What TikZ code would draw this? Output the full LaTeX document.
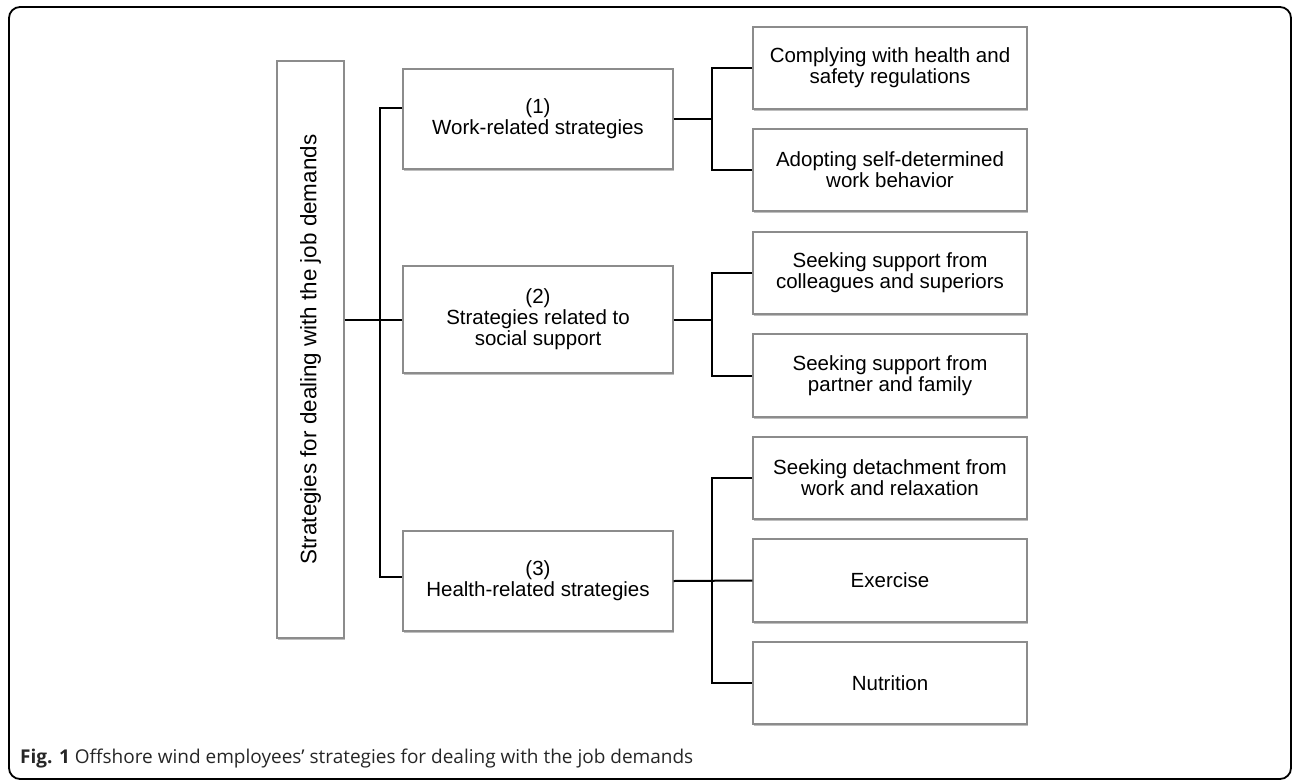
\documentclass[tikz,border=0pt]{standalone}
\usepackage{fontspec}
\setmainfont{Liberation Sans}
\newfontfamily\capfont{Open Sans}
\usetikzlibrary{shadows}
\begin{document}
\begin{tikzpicture}[x=1pt,y=-1pt,
  box/.style={draw=black!45, line width=1.2pt, fill=white, inner sep=0pt,
    drop shadow={shadow xshift=1.2pt, shadow yshift=-2pt, opacity=0.5, fill=black!50},
    align=center, text=black, font=\fontsize{20.5}{21}\selectfont},
  link/.style={line width=2pt, black}]
\useasboundingbox (0,0) rectangle (1296,782);
\draw[line width=1.8pt, rounded corners=11pt] (9,7) rectangle (1291,779);
% root
\node[box, minimum width=67pt, minimum height=577pt] (root) at (310.5,349.5) {};
\node[rotate=90, font=\fontsize{22.4}{23}\selectfont, text=black] (rootlabel) at (root.center) {Strategies for dealing with the job demands};
% level 1
\node[box, minimum width=270pt, minimum height=100pt] (b1) at (538,119) {(1)\\Work-related strategies};
\node[box, minimum width=270pt, minimum height=107pt] (b2) at (538,319.5) {(2)\\Strategies related to\\social support};
\node[box, minimum width=270pt, minimum height=100pt] (b3) at (538,581) {(3)\\Health-related strategies};
% level 2
\node[box, minimum width=274pt, minimum height=82pt] (A) at (890,68) {Complying with health and\\safety regulations};
\node[box, minimum width=274pt, minimum height=82pt] (B) at (890,170) {Adopting self-determined\\work behavior};
\node[box, minimum width=274pt, minimum height=82pt] (C) at (890,273) {Seeking support from\\colleagues and superiors};
\node[box, minimum width=274pt, minimum height=83pt] (D) at (890,375.5) {Seeking support from\\partner and family};
\node[box, minimum width=274pt, minimum height=82pt] (E) at (890,478) {Seeking detachment from\\work and relaxation};
\node[box, minimum width=274pt, minimum height=83pt] (F) at (890,580.5) {Exercise};
\node[box, minimum width=274pt, minimum height=82pt] (G) at (890,683) {Nutrition};
% junctions
\coordinate (s0) at (380,319.5);
\coordinate (j1) at (712,119);
\coordinate (j2) at (712,319.5);
\coordinate (j3) at (712,581);
% connectors
\draw[link] (b2.west -| root.east) -- (b2.west);
\draw[link] ([yshift=11pt]b1.west) -| (s0) |- ([yshift=4pt]b3.west);
\draw[link] (b1.east) -- (j1);
\draw[link] (A.west) -| (j1) |- (B.west);
\draw[link] (b2.east) -- (j2);
\draw[link] (C.west) -| (j2) |- (D.west);
\draw[link] (b3.east) -- (F.west);
\draw[link] (E.west) -| (j3) |- (G.west);
% caption
\node[anchor=base west, inner sep=0pt, text=black!85, font=\capfont\fontsize{19}{21}\selectfont] (cap) at (20,763) {\textbf{Fig. 1} Offshore wind employees’ strategies for dealing with the job demands};
\end{tikzpicture}
\end{document}
